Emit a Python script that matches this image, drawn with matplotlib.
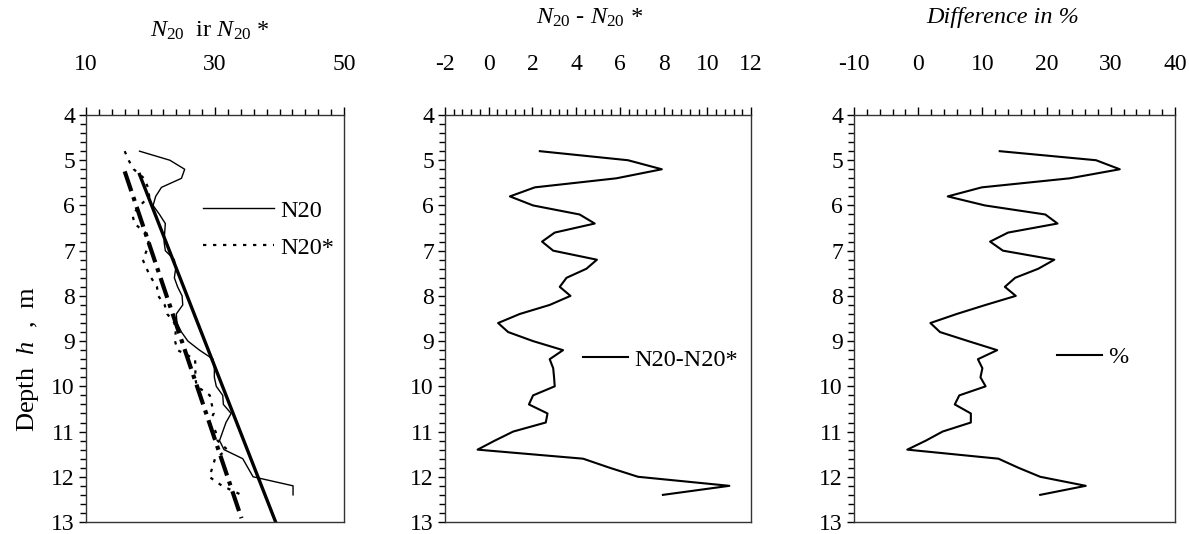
import matplotlib
matplotlib.use("Agg")
import matplotlib.pyplot as plt
import numpy as np
from matplotlib.ticker import MultipleLocator

plt.rcParams["font.family"] = ["Liberation Serif", "DejaVu Serif"]
plt.rcParams["mathtext.fontset"] = "custom"
plt.rcParams["mathtext.rm"] = "Liberation Serif"
plt.rcParams["mathtext.it"] = "Liberation Serif:italic"
plt.rcParams["axes.unicode_minus"] = False

# depth of each test point, m
depth = [4.8, 5.0, 5.2, 5.4, 5.6, 5.8, 6.0, 6.2, 6.4, 6.6, 6.8, 7.0, 7.2,
         7.4, 7.6, 7.8, 8.0, 8.2, 8.4, 8.6, 8.8, 9.0, 9.2, 9.4, 9.6, 9.8,
         10.0, 10.2, 10.4, 10.6, 10.8, 11.0, 11.2, 11.4, 11.6, 11.8, 12.0,
         12.2, 12.4]

n20 = [18.3, 23.0, 25.3, 24.8, 21.7, 20.8, 20.4, 21.4, 22.3, 22.2, 22.1,
       22.3, 23.7, 23.9, 23.7, 24.2, 24.9, 25.0, 24.0, 24.1, 24.8, 25.8,
       27.6, 29.7, 29.9, 29.9, 30.2, 31.2, 31.3, 32.5, 31.7, 31.2, 30.7,
       31.4, 34.3, 35.1, 35.9, 42.1, 42.1]

n20_star = [16.0, 16.6, 17.4, 19.0, 19.6, 19.8, 18.4, 17.2, 17.5, 19.2,
            19.7, 19.4, 18.8, 19.4, 20.1, 21.0, 21.2, 22.2, 22.6, 23.7,
            23.9, 23.8, 24.2, 26.9, 27.0, 26.9, 27.2, 29.2, 29.5, 29.8,
            29.1, 30.1, 30.4, 31.9, 30.0, 29.6, 29.1, 31.1, 34.1]

diff = [2.34, 6.37, 7.92, 5.84, 2.11, 0.97, 2.03, 4.16, 4.85, 3.02, 2.44,
        2.95, 4.95, 4.47, 3.56, 3.25, 3.74, 2.79, 1.42, 0.43, 0.89, 2.03,
        3.40, 2.79, 2.95, 2.99, 3.02, 2.03, 1.84, 2.69, 2.61, 1.12, 0.28,
        -0.51, 4.32, 5.53, 6.83, 11.01, 7.97]

pct = [12.7, 27.7, 31.4, 23.6, 9.9, 4.6, 10.4, 19.8, 21.7, 14.0, 11.2,
       13.2, 21.2, 18.7, 15.1, 13.5, 15.2, 10.5, 6.0, 1.9, 3.4, 7.8, 12.3,
       9.3, 10.0, 9.7, 10.5, 6.4, 5.7, 8.2, 8.2, 3.8, 1.2, -1.7, 12.5, 15.6,
       19.0, 26.1, 19.0]

W, H = 1189, 534
FS = 17      # tick labels
FT = 17.5    # titles / legends
fig = plt.figure(figsize=(W / 100, H / 100), dpi=100)


def px_axes(x0, x1, y0, y1):
    return fig.add_axes([x0 / W, 1 - y1 / H, (x1 - x0) / W, (y1 - y0) / H])


def style_axes(ax, xlim, xmajor, xminor, xoffset=0):
    ax.set_xlim(*xlim)
    ax.set_ylim(13, 4)
    ax.xaxis.tick_top()
    ax.xaxis.set_major_locator(MultipleLocator(xmajor, offset=xoffset))
    ax.xaxis.set_minor_locator(MultipleLocator(xminor))
    ax.yaxis.set_major_locator(MultipleLocator(1))
    ax.yaxis.set_minor_locator(MultipleLocator(0.2))
    ax.tick_params(axis="x", which="major", direction="out", length=6,
                   width=1, pad=23, labelsize=FS)
    ax.tick_params(axis="x", which="minor", direction="out", length=4,
                   width=1)
    ax.tick_params(axis="y", which="major", direction="out", length=5,
                   width=1, pad=3, labelsize=FS)
    ax.tick_params(axis="y", which="minor", direction="out", length=4,
                   width=1)
    for s in ax.spines.values():
        s.set_linewidth(1)
        s.set_color("#333333")


# left panel: N20 and N20*
ax1 = px_axes(86, 344, 115, 522)
style_axes(ax1, (10, 50), 20, 2, xoffset=10)
l1, = ax1.plot(n20, depth, color="black", lw=1.0, label="N20")
l2, = ax1.plot(n20_star, depth, color="black", lw=1.6, ls=(0, (1.5, 3)),
               label="N20*")

# linear trend lines (depth vs N), drawn over the data range as in Excel
b, a = np.polyfit(n20, depth, 1)
xs = np.array([min(n20), max(n20)])
ax1.plot(xs, a + b * xs, color="black", lw=2.4)
b2, a2 = np.polyfit(n20_star, depth, 1)
xs2 = np.array([min(n20_star), max(n20_star)])
ax1.plot(xs2, a2 + b2 * xs2, color="black", lw=3.0,
         ls=(0, (5, 1.5, 1, 1.5)))
ax1.legend(handles=[l1, l2], loc="upper left", bbox_to_anchor=(0.37, 0.845),
           frameon=False, fontsize=FT, handlelength=2.9, handletextpad=0.25,
           labelspacing=0.6)

# middle panel: N20 - N20*
ax2 = px_axes(445, 751, 115, 522)
style_axes(ax2, (-2, 12), 2, 0.4)
ax2.plot(diff, depth, color="black", lw=1.5, label="N20-N20*")
ax2.legend(loc="upper left", bbox_to_anchor=(0.38, 0.48), frameon=False,
           fontsize=FT, handlelength=1.85, handletextpad=0.25)

# right panel: difference in %
ax3 = px_axes(854, 1175, 115, 522)
style_axes(ax3, (-10, 40), 10, 2)
ax3.plot(pct, depth, color="black", lw=1.5, label="%")
ax3.legend(loc="upper left", bbox_to_anchor=(0.563, 0.485), frameon=False,
           fontsize=FT, handlelength=1.85, handletextpad=0.25)

fig.text(28 / W, 1 - 359 / H, "Depth  $\\it{h}$  ,  m", rotation=90,
         ha="center", va="center", fontsize=19)

fig.text(210 / W, 1 - 31 / H, r"$N_{20}$  ir $N_{20}$ *", ha="center",
         va="center", fontsize=FT)
fig.text(590 / W, 1 - 18 / H, r"$N_{20}$ - $N_{20}$ *", ha="center",
         va="center", fontsize=FT, style="italic")
fig.text(1003 / W, 1 - 18 / H, "Difference in %", ha="center", va="center",
         fontsize=FT, style="italic")

fig.savefig("out.png", dpi=100)
